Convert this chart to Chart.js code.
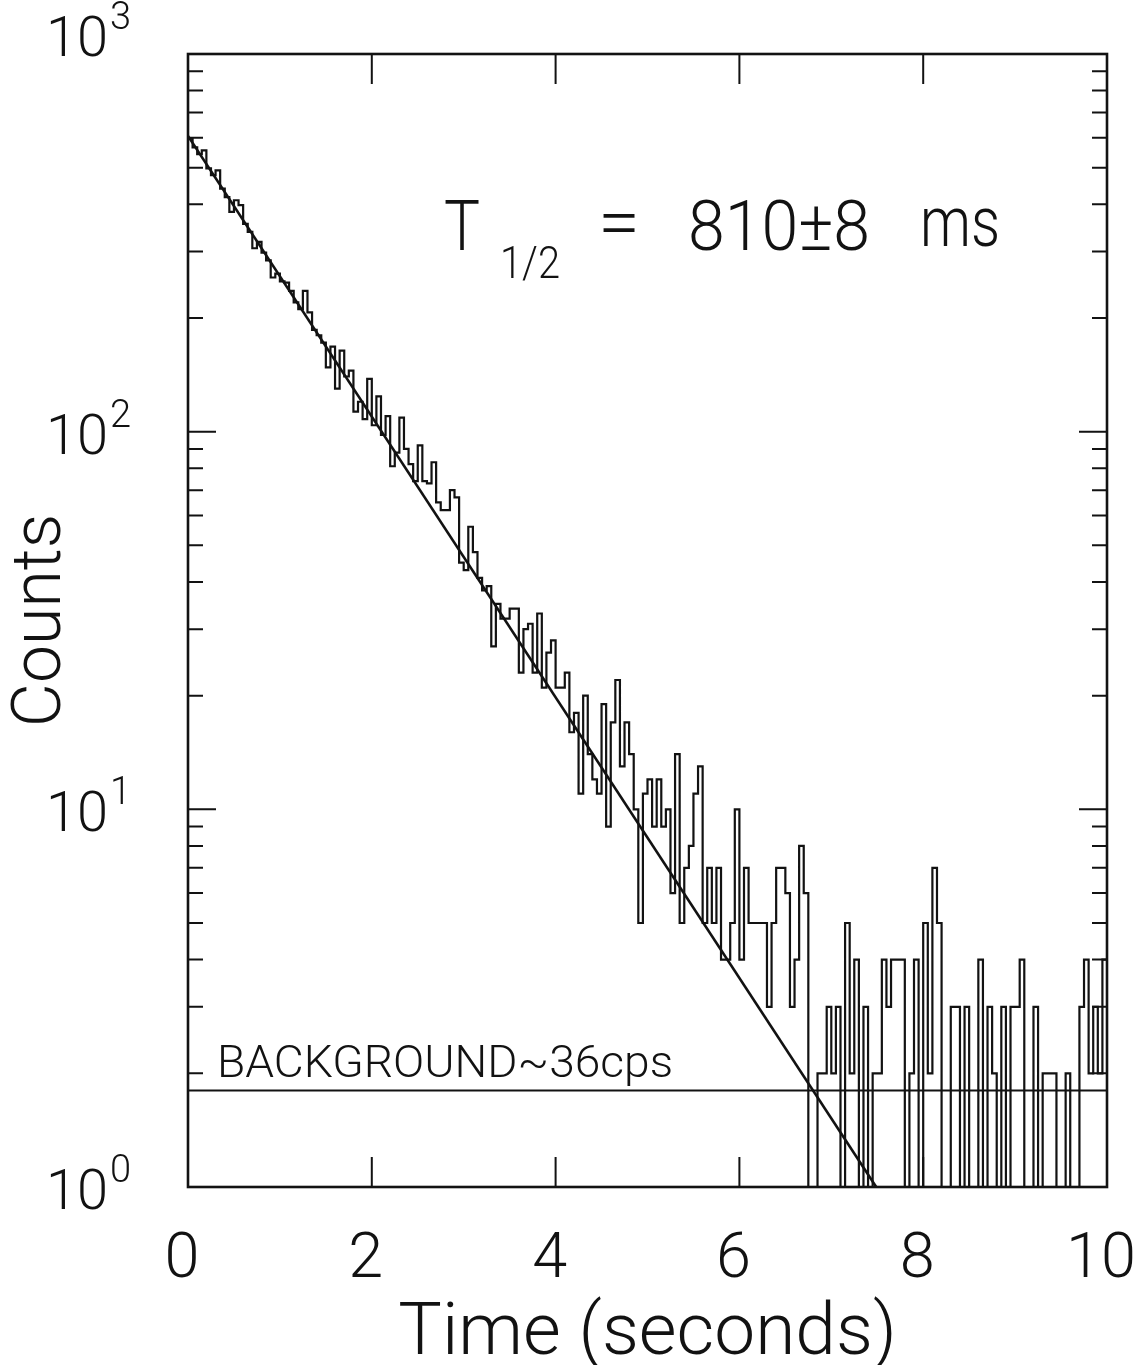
<!DOCTYPE html>
<html>
<head>
<meta charset="utf-8">
<script src="https://cdn.jsdelivr.net/npm/chart.js@4/dist/chart.umd.min.js"></script>
<style>
  html, body { margin: 0; padding: 0; background: #ffffff; }
  #wrap { width: 1141px; height: 1365px; }
</style>
</head>
<body>
<div id="wrap"><canvas id="decay" width="1141" height="1365"></canvas></div>
<script>
// Decay-curve histogram: counts per 50 ms channel over 10 s
const binWidth = 0.05;            // seconds per channel
const counts = [
  598, 566, 543, 556, 498, 478, 492, 440, 418, 382,
  410, 398, 355, 338, 306, 318, 298, 284, 256, 262,
  250, 248, 236, 220, 211, 236, 207, 186, 180, 172,
  148, 168, 130, 164, 140, 145, 113, 120, 108, 138,
  104, 124,  98, 110,  81,  88, 109,  90,  82,  74,
   92,  74,  73,  83,  65,  62,  62,  70,  67,  45,
   43,  56,  48,  41,  38,  39,  27,  35,  32,  32,
   34,  34,  23,  30,  31,  23,  33,  21,  26,  28,
   21,  21,  23,  16,  18,  11,  20,  14,  12,  11,
   19,   9,  17,  22,  13,  17,  14,  10,   5,  11,
   12,   9,  12,   9,  10,   6,  14,   5,   7,   8,
   11,  13,   5,   7,   5,   7,   4,   4,   5,  10,
    4,   7,   5,   5,   5,   5,   3,   5,   7,   7,
    6,   3,   4,   8,   6,   1,   1,   2,   2,   3,
    2,   3,   1,   5,   2,   4,   1,   3,   1,   2,
    2,   4,   3,   4,   4,   4,   1,   2,   4,   1,
    5,   2,   7,   5,   1,   1,   3,   3,   1,   3,
    1,   1,   4,   1,   3,   2,   1,   3,   1,   3,
    3,   4,   1,   1,   3,   1,   2,   2,   2,   1,
    1,   2,   1,   1,   3,   4,   2,   3,   2,   4
];

// Fitted exponential decay and flat background
const halfLife = 0.81;            // s  (T1/2 = 810 ms)
const fitN0 = 607;                // counts per channel at t = 0
const backgroundCps = 36;         // counts per second

// Axes
const xRange = [0, 10];
const xTickValues = [0, 2, 4, 6, 8, 10];
const yRange = [1, 1000];
const yDecades = [1, 10, 100, 1000];
const yExponents = ['0', '1', '2', '3'];
const yMinorMultipliers = [2, 3, 4, 5, 6, 7, 8, 9];

const ink = '#121212';
const fontFamily = "Roboto, 'DejaVu Sans', sans-serif";

// Histogram as a step line through channel edges
const histPoints = counts.map((c, i) => ({ x: Number((i * binWidth).toFixed(2)), y: c }));
histPoints.push({ x: counts.length * binWidth, y: counts[counts.length - 1] });

// Fit line: N(t) = N0 * 2^(-t / T1/2), drawn down to one count
const fitEnd = halfLife * Math.log2(fitN0);
const fitPoints = [{ x: 0, y: fitN0 }, { x: fitEnd, y: 1 }];

const bgLevel = backgroundCps * binWidth;
const bgPoints = [{ x: xRange[0], y: bgLevel }, { x: xRange[1], y: bgLevel }];

function fittedText(ctx, s, x, y, size, width, weight) {
  ctx.font = `${weight || 300} ${size}px ${fontFamily}`;
  ctx.textAlign = 'left';
  ctx.textBaseline = 'alphabetic';
  const w = ctx.measureText(s).width;
  ctx.save();
  ctx.translate(x, y);
  if (width) ctx.scale(width / w, 1);
  ctx.fillText(s, 0, 0);
  ctx.restore();
}

const framePlugin = {
  id: 'frameTicksLabels',
  afterDatasetsDraw(chart) {
    const { ctx, chartArea, scales } = chart;
    const { left, right, top, bottom } = chartArea;
    const xs = scales.x, ys = scales.y;
    ctx.save();
    ctx.strokeStyle = ink;
    ctx.fillStyle = ink;

    // frame
    ctx.lineWidth = 2.6;
    ctx.strokeRect(left, top, right - left, bottom - top);

    // inward x ticks on top and bottom
    ctx.lineWidth = 2;
    ctx.beginPath();
    xTickValues.forEach(v => {
      if (v <= xs.min || v >= xs.max) return;
      const px = xs.getPixelForValue(v);
      ctx.moveTo(px, bottom); ctx.lineTo(px, bottom - 30);
      ctx.moveTo(px, top);    ctx.lineTo(px, top + 30);
    });
    // inward y ticks on left and right (decades long, sub-decades short)
    yDecades.forEach(d => {
      if (d > ys.min && d < ys.max) {
        const py = ys.getPixelForValue(d);
        ctx.moveTo(left, py);  ctx.lineTo(left + 28, py);
        ctx.moveTo(right, py); ctx.lineTo(right - 28, py);
      }
      if (d < ys.max) {
        yMinorMultipliers.forEach(m => {
          const py = ys.getPixelForValue(m * d);
          ctx.moveTo(left, py);  ctx.lineTo(left + 15, py);
          ctx.moveTo(right, py); ctx.lineTo(right - 15, py);
        });
      }
    });
    ctx.stroke();

    // decade labels 10^n
    yDecades.forEach((d, i) => {
      const py = ys.getPixelForValue(d);
      const base = d === ys.max ? py + 2 : py + 22;
      ctx.font = `300 56px ${fontFamily}`;
      ctx.textAlign = 'right';
      ctx.textBaseline = 'alphabetic';
      ctx.fillText('10', 108, base);
      ctx.font = `300 38px ${fontFamily}`;
      ctx.textAlign = 'left';
      ctx.fillText(yExponents[i], 110, base - 27);
    });

    // half-life annotation
    fittedText(ctx, 'T', 444, 250, 70, 36);
    fittedText(ctx, '1/2', 500, 278, 44, 60);
    fittedText(ctx, '=', 598, 246, 70, 42);
    fittedText(ctx, '810\u00B18', 688, 250, 70, 182);
    fittedText(ctx, 'ms', 920, 246, 70, 80);

    // background label
    fittedText(ctx, 'BACKGROUND~36cps', 217, 1077, 44, 456);

    ctx.restore();
  }
};

new Chart(document.getElementById('decay'), {
  type: 'line',
  data: {
    datasets: [
      {
        label: 'Counts',
        data: histPoints,
        stepped: 'before',
        borderColor: ink,
        borderWidth: 2.2,
        pointRadius: 0,
        fill: false
      },
      {
        label: 'Fit',
        data: fitPoints,
        borderColor: ink,
        borderWidth: 2.6,
        pointRadius: 0,
        fill: false
      },
      {
        label: 'Background',
        data: bgPoints,
        borderColor: ink,
        borderWidth: 2,
        pointRadius: 0,
        fill: false
      }
    ]
  },
  options: {
    responsive: false,
    animation: false,
    layout: { padding: { top: 54, right: 34, left: 0, bottom: 0 } },
    plugins: { legend: { display: false }, tooltip: { enabled: false } },
    scales: {
      x: {
        type: 'linear',
        min: xRange[0],
        max: xRange[1],
        ticks: {
          stepSize: 2,
          color: ink,
          padding: 36,
          labelOffset: -6,
          maxRotation: 0,
          font: { family: fontFamily, size: 63, weight: 300 }
        },
        grid: { display: false, drawTicks: false },
        border: { display: false },
        title: {
          display: true,
          text: 'Time (seconds)',
          color: ink,
          font: { family: fontFamily, size: 73, weight: 300, lineHeight: 0.8 },
          padding: { top: 0, bottom: 0 }
        },
        afterFit(scale) {
          scale.height = 178;
          scale.paddingLeft = 0;
          scale.paddingRight = 0;
        }
      },
      y: {
        type: 'logarithmic',
        min: yRange[0],
        max: yRange[1],
        ticks: { display: false },
        grid: { display: false, drawTicks: false },
        border: { display: false },
        title: {
          display: true,
          text: 'Counts',
          color: ink,
          font: { family: fontFamily, size: 68, weight: 300 },
          padding: { top: 2, bottom: 0 }
        },
        afterFit(scale) {
          scale.width = 188;
          scale.paddingTop = 0;
          scale.paddingBottom = 0;
        }
      }
    }
  },
  plugins: [framePlugin]
});
</script>
</body>
</html>
